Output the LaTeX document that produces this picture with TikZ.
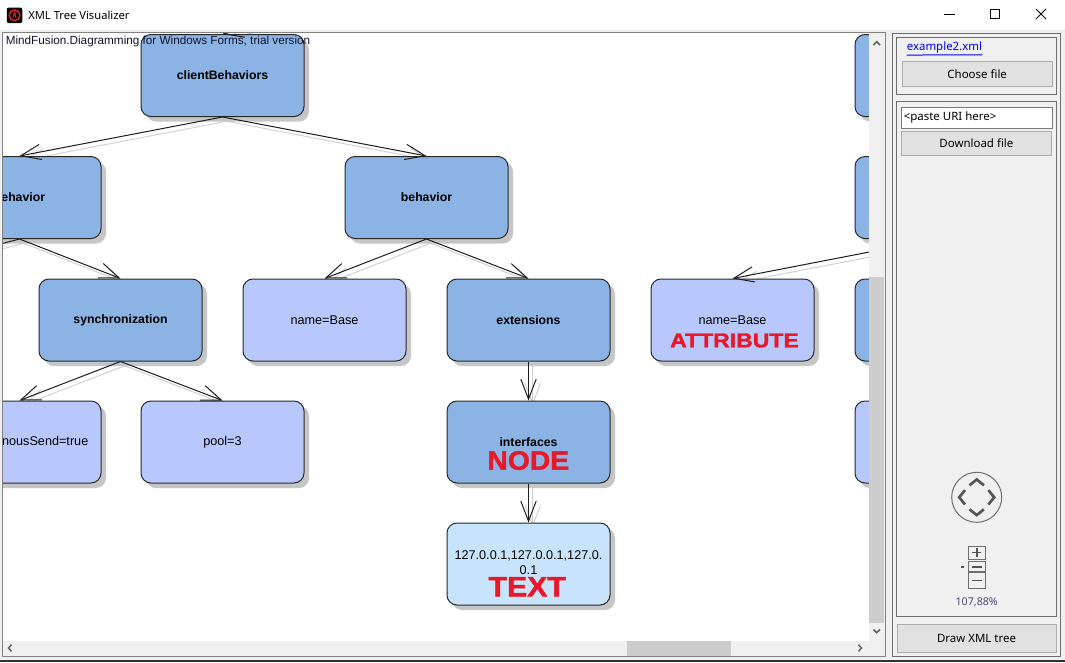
\documentclass[tikz,border=0pt]{standalone}
\usepackage{graphicx}
\usepackage{fontspec}
\setmainfont{Liberation Sans}
\newfontfamily\uifont{Noto Sans}
\newfontfamily\heavyfont[BoldFeatures={FakeBold=1.6}]{Liberation Sans}
\usetikzlibrary{arrows.meta,shadows}
\definecolor{nodeblue}{RGB}{139,179,228}
\definecolor{attrblue}{RGB}{184,200,252}
\definecolor{textblue}{RGB}{200,228,252}
\definecolor{lblred}{RGB}{232,24,40}
\definecolor{winbg}{RGB}{240,240,240}
\definecolor{btnfill}{RGB}{225,225,225}
\definecolor{btnline}{RGB}{173,173,173}
\definecolor{frameline}{RGB}{110,110,110}
\definecolor{canvasline}{RGB}{130,130,130}
\definecolor{thumbgray}{RGB}{205,205,205}
\definecolor{edgeshade}{RGB}{210,210,210}
\definecolor{nodeshade}{RGB}{198,198,198}
\definecolor{zoomtxt}{RGB}{80,72,120}
\definecolor{linkblue}{RGB}{0,0,255}
\definecolor{borderdark}{RGB}{40,40,40}
\definecolor{arrowgray}{RGB}{96,96,96}
\definecolor{chevgray}{RGB}{85,85,85}
\pgfdeclarelayer{base}
\pgfdeclarelayer{bg}
\pgfsetlayers{base,bg,main}
\tikzset{
  treebox/.style={draw=borderdark, line width=0.75pt, rounded corners=7.5pt,
    minimum width={163*0.75pt}, minimum height={82*0.75pt}, inner sep=0pt, align=center,
    drop shadow={shadow xshift=3.75pt, shadow yshift=-3.75pt, fill=nodeshade, opacity=1}},
  elemnode/.style={treebox, fill=nodeblue, font=\fontsize{9.2}{11}\selectfont\bfseries},
  attrnode/.style={treebox, fill=attrblue, font=\fontsize{9.5}{11}\selectfont},
  textnode/.style={treebox, fill=textblue, font=\fontsize{9.5}{11.25}\selectfont},
  conn/.style={draw={rgb,255:red,30;green,30;blue,30}, line width=0.75pt,
    -{Straight Barb[length=15pt,width=11.5pt]}},
  connshade/.style={conn, draw=edgeshade},
  redlbl/.style={text=lblred, inner sep=0pt},
  uitext/.style={inner sep=0pt, font=\uifont\fontsize{8.6}{10}\selectfont},
  uibtn/.style={draw=btnline, fill=btnfill, line width=0.75pt, inner sep=0pt,
    font=\uifont\fontsize{8.6}{10}\selectfont},
  groupframe/.style={draw=frameline, line width=0.75pt},
  chev/.style={draw=chevgray, line width=2pt},
  sbarrow/.style={draw=arrowgray, line width=1.1pt},
  winctl/.style={draw=black, line width=0.75pt}
}
\begin{document}
\begin{tikzpicture}[x=0.75pt,y=-0.75pt]
\useasboundingbox (0,0) rectangle (1065,662);
% ---------- base: window and canvas ----------
\begin{pgfonlayer}{base}
  \fill[winbg] (0,0) rectangle (1065,662);
  \fill[white] (0,0) rectangle (1065,30);
  \fill[white] (3,33) rectangle (869,640.5);
\end{pgfonlayer}

% ---------- tree nodes ----------
\begin{scope}
  \clip (3,33) rectangle (869,640.5);
  \coordinate (topP) at (426.5,-7.5);
  \coordinate (offL) at (-132,279);
  \node[elemnode] (cb) at (222.5,75.5) {clientBehaviors};
  \node[elemnode] (r0) at (936.5,75.5) {};
  \node[elemnode] (behL) at (19.5,197.5) {behavior};
  \node[elemnode] (beh) at (426.5,197.5) {behavior};
  \node[elemnode] (r1) at (936.5,197.5) {};
  \node[elemnode] (sync) at (120.5,320) {synchronization};
  \node[attrnode] (nb1) at (324.5,320) {name=Base};
  \node[elemnode] (ext) at (528.5,320) {extensions};
  \node[attrnode] (nb2) at (732.5,320) {name=Base};
  \node[redlbl] (attrlbl) at (734.5,340.5) {\heavyfont\fontsize{15}{16}\selectfont\bfseries\scalebox{1.15}[1]{ATTRIBUTE}};
  \node[elemnode] (r2) at (936.5,320) {};
  \node[attrnode] (async) at (19.5,442) {asynchronousSend=true};
  \node[attrnode] (pool) at (222.5,442) {pool=3};
  \node[elemnode] (iface) at (528.5,442) {interfaces};
  \node[redlbl] (nodelbl) at (528.3,460.5) {\heavyfont\fontsize{20}{22}\selectfont\bfseries\scalebox{1.06}[1]{NODE}};
  \node[attrnode] (r3) at (936.5,442) {};
  \node[textnode] (txt) at (528.5,564) {};
  \node[inner sep=0pt, align=center, font=\fontsize{9.5}{11.25}\selectfont] (txtt) at (528.5,562.5) {127.0.0.1,127.0.0.1,127.0.\\0.1};
  \node[redlbl] (textlbl) at (527.2,586.7) {\heavyfont\fontsize{21}{22}\selectfont\bfseries\scalebox{1.08}[1]{TEXT}};
  % connectors
  \draw[conn] (topP) -- (cb.north);
  \draw[conn] (cb.south) -- (behL.north);
  \draw[conn] (cb.south) -- (beh.north);
  \draw[conn] (behL.south) -- (offL);
  \draw[conn] (behL.south) -- (sync.north);
  \draw[conn] (beh.south) -- (nb1.north);
  \draw[conn] (beh.south) -- (ext.north);
  \draw[conn] (r1.south) -- (nb2.north);
  \draw[conn] (sync.south) -- (async.north);
  \draw[conn] (sync.south) -- (pool.north);
  \draw[conn] (ext.south) -- (iface.north);
  \draw[conn] (iface.south) -- (txt.north);
  % watermark
  \node[anchor=west, inner sep=0pt, font=\fontsize{8.8}{10}\selectfont, text={rgb,255:red,20;green,20;blue,40}] (wm) at (5.5,41.5) {MindFusion.Diagramming for Windows Forms, trial version};
\end{scope}

% ---------- connector shadows (under nodes) ----------
\begin{pgfonlayer}{bg}
\begin{scope}
  \clip (3,33) rectangle (869,640.5);
  \begin{scope}[transform canvas={xshift=3.2pt,yshift=-3.2pt}]
    \draw[connshade] (topP) -- (cb.north);
    \draw[connshade] (cb.south) -- (behL.north);
    \draw[connshade] (cb.south) -- (beh.north);
    \draw[connshade] (behL.south) -- (offL);
    \draw[connshade] (behL.south) -- (sync.north);
    \draw[connshade] (beh.south) -- (nb1.north);
    \draw[connshade] (beh.south) -- (ext.north);
    \draw[connshade] (r1.south) -- (nb2.north);
    \draw[connshade] (sync.south) -- (async.north);
    \draw[connshade] (sync.south) -- (pool.north);
    \draw[connshade] (ext.south) -- (iface.north);
    \draw[connshade] (iface.south) -- (txt.north);
  \end{scope}
\end{scope}
\end{pgfonlayer}

% ---------- scrollbars ----------
\fill[winbg] (869,33) rectangle (885.5,657);
\fill[winbg] (3,640.5) rectangle (869,656.5);
\node[fill=thumbgray, inner sep=0pt, minimum width={15.3*0.75pt}, minimum height={346*0.75pt}] (vthumb) at (876.7,449.7) {};
\node[fill=thumbgray, inner sep=0pt, minimum width={104*0.75pt}, minimum height={15*0.75pt}] (hthumb) at (679,648.2) {};
\draw[sbarrow] (873.5,45) -- (876.7,41.7) -- (880,45);
\draw[sbarrow] (873.5,629.5) -- (876.7,632.7) -- (880,629.5);
\draw[sbarrow] (11.5,644.7) -- (8.5,648) -- (11.5,651.3);
\draw[sbarrow] (858.5,644.7) -- (861.5,648) -- (858.5,651.3);
\draw[draw=canvasline, line width=0.75pt] (2.5,32.5) rectangle (885.5,656.8);

% ---------- title bar ----------
\node[fill=black, rounded corners=1.5pt, minimum size={15.5*0.75pt}, inner sep=0pt] (icon) at (14.5,15.3) {};
\draw[draw={rgb,255:red,225;green,30;blue,40}, line width=1.1pt] (icon.center) circle [radius=4pt];
\draw[draw={rgb,255:red,225;green,30;blue,40}, line width=0.8pt] (12.8,18.2) -- (14.5,12.6) -- (16.2,18.2);
\node[anchor=west, inner sep=0pt, font=\uifont\fontsize{8.4}{10}\selectfont] (title) at (28,15.3) {XML Tree Visualizer};
\draw[winctl] (944,14.5) -- (955,14.5);
\draw[winctl] (990.5,9.5) rectangle (999.5,18.5);
\draw[winctl] (1036,9) -- (1046,19);
\draw[winctl] (1046,9) -- (1036,19);

% ---------- right panel ----------
\draw[groupframe] (892.5,33.5) rectangle (1060.5,656.5);
\draw[groupframe] (896.5,37.5) rectangle (1056.5,94.5);
\draw[groupframe] (896.5,101.5) rectangle (1056.5,616.5);
\node[anchor=west, uitext, text=linkblue] (link) at (906.5,47.5) {example2.xml};
\draw[draw=linkblue, line width=0.75pt] (link.south west) ++(0,1.5) -- ([yshift=-1.1pt]link.south east);
\node[uibtn, minimum width={150*0.75pt}, minimum height={25*0.75pt}] (choose) at (977.2,73.8) {Choose file};
\node[draw={rgb,255:red,122;green,122;blue,122}, fill=white, line width=0.75pt, minimum width={151*0.75pt}, minimum height={21*0.75pt}, inner sep=0pt] (uri) at (976.8,117.8) {};
\node[anchor=west, uitext] (uritext) at (903.5,117.5) {<paste URI here>};
\node[uibtn, minimum width={150.5*0.75pt}, minimum height={24*0.75pt}] (download) at (976.4,143.3) {Download file};
\node[circle, draw=frameline, line width=0.75pt, minimum size={50*0.75pt}, inner sep=0pt] (nav) at (976.7,497.3) {};
\draw[chev] (969.5,485.3) -- (976.7,479.5) -- (983.9,485.3);
\draw[chev] (969.5,509.3) -- (976.7,515.1) -- (983.9,509.3);
\draw[chev] (965,490.1) -- (959.2,497.3) -- (965,504.5);
\draw[chev] (988.4,490.1) -- (994.2,497.3) -- (988.4,504.5);
\node[draw=frameline, line width=0.75pt, minimum width={17.7*0.75pt}, minimum height={13*0.75pt}, inner sep=0pt] (zin) at (976.9,552.5) {};
\node[draw=frameline, line width=0.75pt, minimum width={17.7*0.75pt}, minimum height={10*0.75pt}, inner sep=0pt] (zthumb) at (976.9,566.7) {};
\node[draw=frameline, line width=0.75pt, minimum width={17.7*0.75pt}, minimum height={15.3*0.75pt}, inner sep=0pt] (zout) at (976.9,580.4) {};
\draw[draw=chevgray, line width=1.1pt] (972.4,552.5) -- (981.4,552.5);
\draw[draw=chevgray, line width=1.1pt] (976.9,548) -- (976.9,557);
\draw[draw=chevgray, line width=1.5pt] (971.9,566.7) -- (981.9,566.7);
\draw[draw=chevgray, line width=1.1pt] (971.9,580.4) -- (981.9,580.4);
\draw[draw=chevgray, line width=1pt] (961.3,567) -- (963.8,567);
\node[inner sep=0pt, font=\uifont\fontsize{8}{9}\selectfont, text=zoomtxt] (zpct) at (976.7,602.5) {107,88\%};
\node[uibtn, minimum width={159*0.75pt}, minimum height={27.3*0.75pt}] (drawtree) at (976.5,638.6) {Draw XML tree};
\draw[draw={rgb,255:red,50;green,50;blue,50}, line width=1.5pt] (0,661) -- (1065,661);
\end{tikzpicture}
\end{document}
